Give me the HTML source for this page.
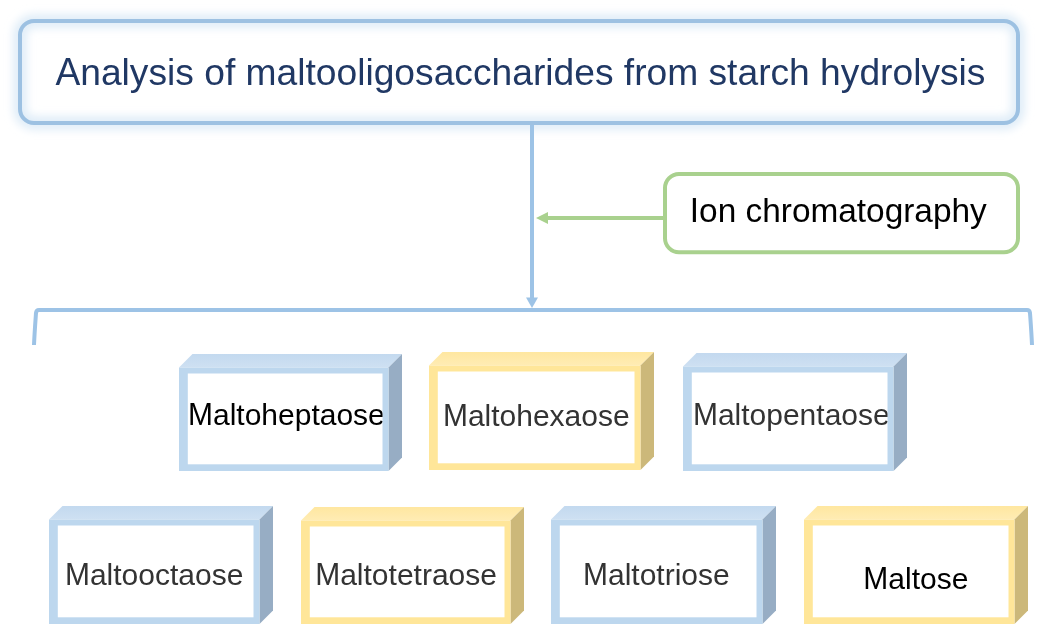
<!DOCTYPE html>
<html><head><meta charset="utf-8"><style>
html,body{margin:0;padding:0;background:#fff;}
svg{display:block;font-family:"Liberation Sans",sans-serif;will-change:transform;}
</style></head><body>
<svg width="1049" height="642" viewBox="0 0 1049 642">
<defs>
<linearGradient id="gb" x1="0" y1="0" x2="0" y2="1"><stop offset="0" stop-color="#C3D9EF"/><stop offset="1" stop-color="#CEE0F2"/></linearGradient>
<linearGradient id="gy" x1="0" y1="0" x2="0" y2="1"><stop offset="0" stop-color="#FFE7A0"/><stop offset="1" stop-color="#FFECB4"/></linearGradient>
<filter id="glow" x="-5%" y="-30%" width="110%" height="160%"><feGaussianBlur stdDeviation="4.5"/></filter>
</defs>
<rect width="1049" height="642" fill="#fff"/>
<rect x="20" y="21" width="998" height="102" rx="14" fill="none" stroke="#e0edf8" stroke-width="14" filter="url(#glow)"/>
<rect x="20" y="21" width="998" height="102" rx="14" fill="none" stroke="#9DC1E2" stroke-width="4"/>
<g ><text transform="translate(55.4,84.6) scale(1,1.041)" x="0" y="0" fill="#203864" font-size="37.2">A</text><text x="80.21" y="84.6" fill="#203864" font-size="37.2">nalysis of maltooligosaccharides from starch hydrolysis</text></g>
<line x1="532" y1="125" x2="532" y2="299" stroke="#9DC3E6" stroke-width="4"/>
<polygon points="526,297.5 538,297.5 532,308" fill="#9DC3E6"/>
<rect x="665" y="174" width="353" height="78.3" rx="14" fill="#fff" stroke="#A9D18E" stroke-width="4"/>
<g ><text transform="translate(689.8,221.7) scale(1,1.041)" x="0" y="0" fill="#000" font-size="33.4">I</text><text x="699.08" y="221.7" fill="#000" font-size="33.4">on chromatography</text></g>
<line x1="663" y1="218" x2="546" y2="218" stroke="#A9D18E" stroke-width="4"/>
<polygon points="548,212 548,224 536,218" fill="#A9D18E"/>
<path d="M34 345 C34.5 333 35.5 320 36 313 Q36.3 310 39 310 L1027 310 Q1029.7 310 1030 313 C1030.5 320 1031.5 333 1032 345" fill="none" stroke="#9DC3E6" stroke-width="4"/>
<polygon points="179,367.5 192.5,354 402,354 388.5,367.5" fill="url(#gb)"/>
<polygon points="388.5,367.5 402,354 402,457.5 388.5,471" fill="#97ADC4"/>
<rect x="179" y="367.5" width="209.5" height="103.5" fill="#BDD7EE"/>
<rect x="187.8" y="373.5" width="194.7" height="90.8" fill="#fff"/>
<clipPath id="c0"><rect x="187.8" y="373.5" width="194.7" height="90.8"/></clipPath>
<g clip-path="url(#c0)"><text transform="translate(188,424.6) scale(1,1.041)" x="0" y="0" fill="#000" font-size="30">M</text><text x="212.99" y="424.6" fill="#000" font-size="30">altoheptaose</text></g>
<polygon points="429,365.5 442.5,352 654,352 640.5,365.5" fill="url(#gy)"/>
<polygon points="640.5,365.5 654,352 654,456.5 640.5,470" fill="#CCB87A"/>
<rect x="429" y="365.5" width="211.5" height="104.5" fill="#FFE699"/>
<rect x="437.8" y="371.5" width="196.7" height="91.8" fill="#fff"/>
<clipPath id="c1"><rect x="437.8" y="371.5" width="196.7" height="91.8"/></clipPath>
<g clip-path="url(#c1)"><text transform="translate(442.9,425.6) scale(1,1.041)" x="0" y="0" fill="#333333" font-size="30">M</text><text x="467.89" y="425.6" fill="#333333" font-size="30">altohexaose</text></g>
<polygon points="683,366.5 696.5,353 907,353 893.5,366.5" fill="url(#gb)"/>
<polygon points="893.5,366.5 907,353 907,457.5 893.5,471" fill="#97ADC4"/>
<rect x="683" y="366.5" width="210.5" height="104.5" fill="#BDD7EE"/>
<rect x="691.8" y="372.5" width="195.7" height="91.8" fill="#fff"/>
<clipPath id="c2"><rect x="691.8" y="372.5" width="195.7" height="91.8"/></clipPath>
<g clip-path="url(#c2)"><text transform="translate(692.9,424.6) scale(1,1.041)" x="0" y="0" fill="#333333" font-size="30">M</text><text x="717.89" y="424.6" fill="#333333" font-size="30">altopentaose</text></g>
<polygon points="49,519.5 62.5,506 273,506 259.5,519.5" fill="url(#gb)"/>
<polygon points="259.5,519.5 273,506 273,610.5 259.5,624" fill="#97ADC4"/>
<rect x="49" y="519.5" width="210.5" height="104.5" fill="#BDD7EE"/>
<rect x="57.8" y="525.5" width="195.7" height="91.8" fill="#fff"/>
<clipPath id="c3"><rect x="57.8" y="525.5" width="195.7" height="91.8"/></clipPath>
<g clip-path="url(#c3)"><text transform="translate(64.9,584.6) scale(1,1.041)" x="0" y="0" fill="#333333" font-size="30">M</text><text x="89.89" y="584.6" fill="#333333" font-size="30">altooctaose</text></g>
<polygon points="301,520.5 314.5,507 524,507 510.5,520.5" fill="url(#gy)"/>
<polygon points="510.5,520.5 524,507 524,610.5 510.5,624" fill="#CCB87A"/>
<rect x="301" y="520.5" width="209.5" height="103.5" fill="#FFE699"/>
<rect x="309.8" y="526.5" width="194.7" height="90.8" fill="#fff"/>
<clipPath id="c4"><rect x="309.8" y="526.5" width="194.7" height="90.8"/></clipPath>
<g clip-path="url(#c4)"><text transform="translate(315.2,584.6) scale(1,1.041)" x="0" y="0" fill="#333333" font-size="30">M</text><text x="340.19" y="584.6" fill="#333333" font-size="30">altotetraose</text></g>
<polygon points="551,519.5 564.5,506 776,506 762.5,519.5" fill="url(#gb)"/>
<polygon points="762.5,519.5 776,506 776,610.5 762.5,624" fill="#97ADC4"/>
<rect x="551" y="519.5" width="211.5" height="104.5" fill="#BDD7EE"/>
<rect x="559.8" y="525.5" width="196.7" height="91.8" fill="#fff"/>
<clipPath id="c5"><rect x="559.8" y="525.5" width="196.7" height="91.8"/></clipPath>
<g clip-path="url(#c5)"><text transform="translate(583,584.6) scale(1,1.041)" x="0" y="0" fill="#333333" font-size="30">M</text><text x="607.99" y="584.6" fill="#333333" font-size="30">altotriose</text></g>
<polygon points="804,519.5 817.5,506 1028,506 1014.5,519.5" fill="url(#gy)"/>
<polygon points="1014.5,519.5 1028,506 1028,610.5 1014.5,624" fill="#CCB87A"/>
<rect x="804" y="519.5" width="210.5" height="104.5" fill="#FFE699"/>
<rect x="812.8" y="525.5" width="195.7" height="91.8" fill="#fff"/>
<clipPath id="c6"><rect x="812.8" y="525.5" width="195.7" height="91.8"/></clipPath>
<g clip-path="url(#c6)"><text transform="translate(863.3,588.6) scale(1,1.041)" x="0" y="0" fill="#000" font-size="30">M</text><text x="888.29" y="588.6" fill="#000" font-size="30">altose</text></g>
</svg>
</body></html>
